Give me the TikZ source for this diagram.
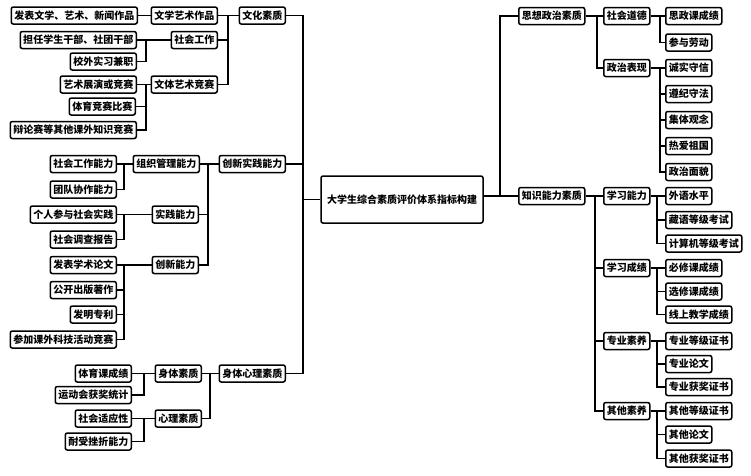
\documentclass[tikz,border=0pt]{standalone}
\usepackage{fontspec}
\setmainfont{Noto Sans CJK SC}
\usepackage{tikz}
\usetikzlibrary{positioning, calc}

\tikzset{
  box/.style={draw, line width=1.5pt, rounded corners=2pt, fill=white,
    minimum height=17pt, inner xsep=3pt, inner ysep=0pt,
    font=\fontsize{10}{12}\selectfont\bfseries},
  boxL/.style={box, anchor=east},
  boxR/.style={box, anchor=west},
  link/.style={line width=1.5pt}
}

\begin{document}
\begin{tikzpicture}[x=1pt, y=-1pt]
  \useasboundingbox[fill=white] (0,0) rectangle (751,475);

  % Root
  \node[box, minimum width=162pt, minimum height=47pt] (root) at (402,199.5)
    {大学生综合素质评价体系指标构建};

  % Bracket columns
  \coordinate (sL) at (303,0);
  \coordinate (sR) at (500,0);
  \coordinate (bWH) at (228,0);
  \coordinate (bCX) at (208,0);
  \coordinate (bSX) at (210,0);
  \coordinate (bA) at (146,0);
  \coordinate (bB) at (124,0);
  \coordinate (bC) at (144,0);
  \coordinate (bSZ) at (597,0);
  \coordinate (bZN) at (595,0);
  \coordinate (bD) at (660,0);
  \coordinate (bE) at (657,0);

  % Left side, first level
  \node[boxL] (wenhua) at (286,15.5) {文化素质};
  \node[boxL] (chuangxin) at (286,164) {创新实践能力};
  \node[boxL] (shenxin) at (286,373.5) {身体心理素质};

  % Left side, second level
  \node[boxL] (zuopin) at (218,15.5) {文学艺术作品};
  \node[boxL] (shegong) at (218,40) {社会工作};
  \node[boxL] (wenti) at (218,84.5) {文体艺术竞赛};
  \node[boxL] (zuzhi) at (200,164) {组织管理能力};
  \node[boxL] (shijian) at (199,214.5) {实践能力};
  \node[boxL] (cxnl) at (199,265) {创新能力};
  \node[boxL] (shenti) at (202,373.5) {身体素质};
  \node[boxL] (xinli) at (202,418.5) {心理素质};

  % Left side, leaves
  \foreach \nm/\xx/\yy/\txt in {
    fabiao/138/15.5/发表文学、艺术、新闻作品,
    ganbu/137/40/担任学生干部、社团干部,
    shixi/137/61.5/校外实习兼职,
    zhanyan/137/84.5/艺术展演或竞赛,
    tiyu/136/106.5/体育竞赛比赛,
    bianlun/137/130/辩论赛等其他课外知识竞赛,
    sgnl/117/164/社会工作能力,
    tuandui/117/189.5/团队协作能力,
    geren/117/214.5/个人参与社会实践,
    diaocha/117/239.5/社会调查报告,
    lunwen/117/265/发表学术论文,
    zhuzuo/117/290/公开出版著作,
    zhuanli/117/314.5/发明专利,
    keji/117/339.5/参加课外科技活动竞赛,
    tyk/132/373.5/体育课成绩,
    yundong/132/395/运动会获奖统计,
    shiying/132/418.5/社会适应性,
    naishou/132/441.5/耐受挫折能力
  }{
    \node[boxL] (\nm) at (\xx,\yy) {\txt};
  }

  % Right side, first level
  \node[boxR] (sixiang) at (518,16) {思想政治素质};
  \node[boxR] (zhishi) at (518,196) {知识能力素质};

  % Right side, second level
  \node[boxR] (daode) at (603,16) {社会道德};
  \node[boxR] (zhengzhi) at (603,68) {政治表现};
  \node[boxR] (xxnl) at (603,196) {学习能力};
  \node[boxR] (xxcj) at (603,268) {学习成绩};
  \node[boxR] (zhuanye) at (603,341) {专业素养};
  \node[boxR] (qita) at (603,411) {其他素养};

  % Right side, leaves
  \foreach \nm/\yy/\txt in {
    szk/16/思政课成绩, laodong/42.5/参与劳动,
    chengxin/68/诚实守信, zunji/94/遵纪守法, jiti/120/集体观念,
    reai/146/热爱祖国, mianmao/172/政治面貌,
    waiyu/196/外语水平, zangyu/220/藏语等级考试, jisuanji/243.5/计算机等级考试,
    bixiu/268/必修课成绩, xuanxiu/291.5/选修课成绩, xianshang/314.5/线上教学成绩,
    zydj/341/专业等级证书, zylw/364/专业论文, zyhj/387/专业获奖证书,
    qtdj/411/其他等级证书, qtlw/434.5/其他论文, qthj/458.5/其他获奖证书
  }{
    \node[boxR] (\nm) at (665,\yy) {\txt};
  }

  % Connectors, left side
  \draw[link] (root.west) -- (root.west -| sL);
  \foreach \p in {wenhua, chuangxin, shenxin}
    \draw[link] (\p.east) -- (\p.east -| sL) |- (root.west);
  \foreach \c in {zuopin, shegong, wenti}
    \draw[link] (wenhua.west) -- (wenhua.west -| bWH) |- (\c.east);
  \foreach \c in {zuzhi, shijian, cxnl}
    \draw[link] (chuangxin.west) -- (chuangxin.west -| bCX) |- (\c.east);
  \foreach \c in {shenti, xinli}
    \draw[link] (shenxin.west) -- (shenxin.west -| bSX) |- (\c.east);
  \draw[link] (zuopin.west) -- (fabiao.east);
  \foreach \p/\c in {shegong/ganbu, shegong/shixi,
      wenti/zhanyan, wenti/tiyu, wenti/bianlun}
    \draw[link] (\p.west) -- (\p.west -| bA) |- (\c.east);
  \foreach \p/\c in {zuzhi/sgnl, zuzhi/tuandui, shijian/geren, shijian/diaocha,
      cxnl/lunwen, cxnl/zhuzuo, cxnl/zhuanli, cxnl/keji}
    \draw[link] (\p.west) -- (\p.west -| bB) |- (\c.east);
  \foreach \p/\c in {shenti/tyk, shenti/yundong, xinli/shiying, xinli/naishou}
    \draw[link] (\p.west) -- (\p.west -| bC) |- (\c.east);

  % Connectors, right side
  \draw[link] (root.east |- zhishi.west) -- (zhishi.west);
  \draw[link] (sixiang.west) -- (sixiang.west -| sR) |- (zhishi.west);
  \foreach \c in {daode, zhengzhi}
    \draw[link] (sixiang.east) -- (sixiang.east -| bSZ) |- (\c.west);
  \foreach \c in {xxnl, xxcj, zhuanye, qita}
    \draw[link] (zhishi.east) -- (zhishi.east -| bZN) |- (\c.west);
  \foreach \p/\c in {daode/szk, daode/laodong, zhengzhi/chengxin,
      zhengzhi/zunji, zhengzhi/jiti, zhengzhi/reai, zhengzhi/mianmao}
    \draw[link] (\p.east) -- (\p.east -| bD) |- (\c.west);
  \foreach \p/\c in {xxnl/waiyu, xxnl/zangyu, xxnl/jisuanji,
      xxcj/bixiu, xxcj/xuanxiu, xxcj/xianshang,
      zhuanye/zydj, zhuanye/zylw, zhuanye/zyhj,
      qita/qtdj, qita/qtlw, qita/qthj}
    \draw[link] (\p.east) -- (\p.east -| bE) |- (\c.west);
\end{tikzpicture}
\end{document}
